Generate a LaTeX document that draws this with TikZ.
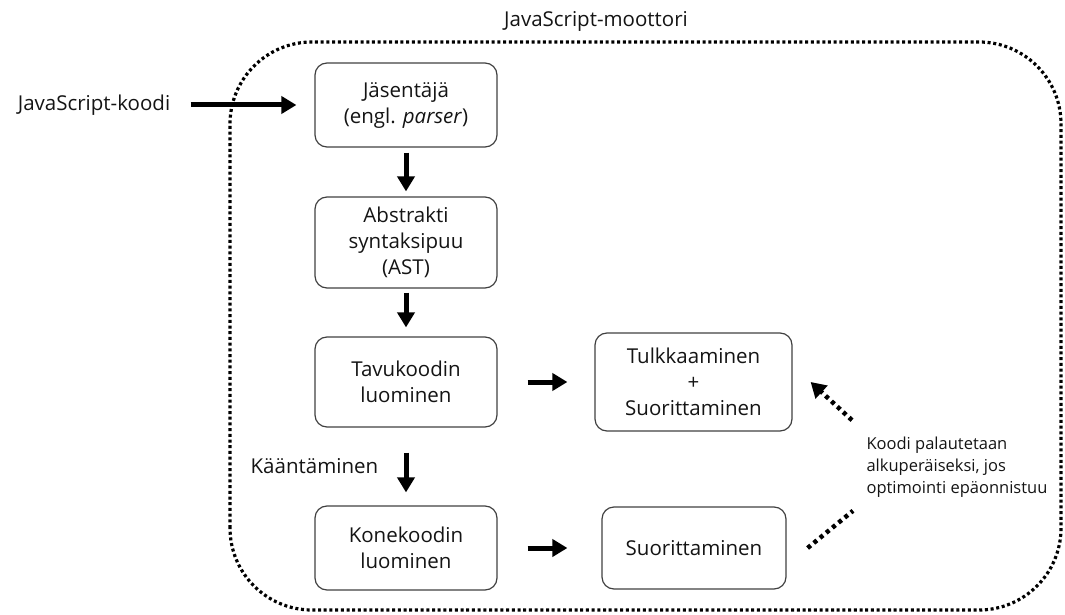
\documentclass[tikz,border=0pt]{standalone}
\usepackage{fontspec}
\setmainfont{Open Sans}
\usetikzlibrary{arrows.meta}

\begin{document}
\begin{tikzpicture}[x=1pt, y=1pt, font=\fontsize{20.5}{26}\selectfont, text=black!92,
  box/.style={draw=black!75, line width=1.2pt, rounded corners=12pt, align=center, inner sep=0pt},
  flow/.style={line width=5pt, -{Triangle[length=15pt, width=17pt]}},
  dotflow/.style={line width=4.5pt, dash pattern=on 4pt off 4pt}]
  \useasboundingbox (0, 0) rectangle (1065, 614);
  % engine frame
  \draw[line width=3.2pt, dash pattern=on 3pt off 2.7pt, rounded corners=82pt] (230, 4) rectangle (1061, 572);
  \node (moottori) at (596, 593) {JavaScript-moottori};

  \node (koodi) at (94, 509) {JavaScript-koodi};
  \node[box, minimum width=182, minimum height=84] (jasentaja) at (406, 509) {Jäsentäjä\\(engl. \textit{parser})};
  \node[box, minimum width=182, minimum height=91] (ast) at (406, 371.5) {Abstrakti\\syntaksipuu\\(AST)};
  \node[box, minimum width=182, minimum height=90] (tavu) at (406, 232) {Tavukoodin\\luominen};
  \node[box, minimum width=182, minimum height=84] (kone) at (406, 66) {Konekoodin\\luominen};
  \node[box, minimum width=197, minimum height=98] (tulkkaus) at (693.5, 232) {Tulkkaaminen\\+\\Suorittaminen};
  \node[box, minimum width=184, minimum height=82] (suoritus) at (694, 66) {Suorittaminen};
  \node[anchor=west, align=left, font=\fontsize{16.5}{22}\selectfont] (palautus) at (863, 147)
    {Koodi palautetaan\\alkuperäiseksi, jos\\optimointi epäonnistuu};

  \draw[flow, shorten <=17pt, shorten >=18pt] (koodi) -- (jasentaja);
  \draw[flow, shorten <=5pt, shorten >=5pt] (jasentaja) -- (ast);
  \draw[flow, shorten <=4pt, shorten >=9pt] (ast) -- (tavu);
  \draw[flow, shorten <=25pt, shorten >=13pt] (tavu) -- node[left=22pt] (kaanto) {Kääntäminen} (kone);
  \draw[flow, shorten <=30pt, shorten >=27pt] (tavu) -- (tulkkaus);
  \draw[flow, shorten <=30pt, shorten >=34pt] (kone) -- (suoritus);

  % fallback back to the interpreter
  \draw[dotflow] ([xshift=21pt]suoritus.east) -- ([shift={(-10pt,-10pt)}]palautus.south west);
  \draw[dotflow, -{Triangle[length=15pt, width=17pt]}] ([shift={(-11pt,13pt)}]palautus.north west) -- ([xshift=18pt]tulkkaus.east);
\end{tikzpicture}
\end{document}
